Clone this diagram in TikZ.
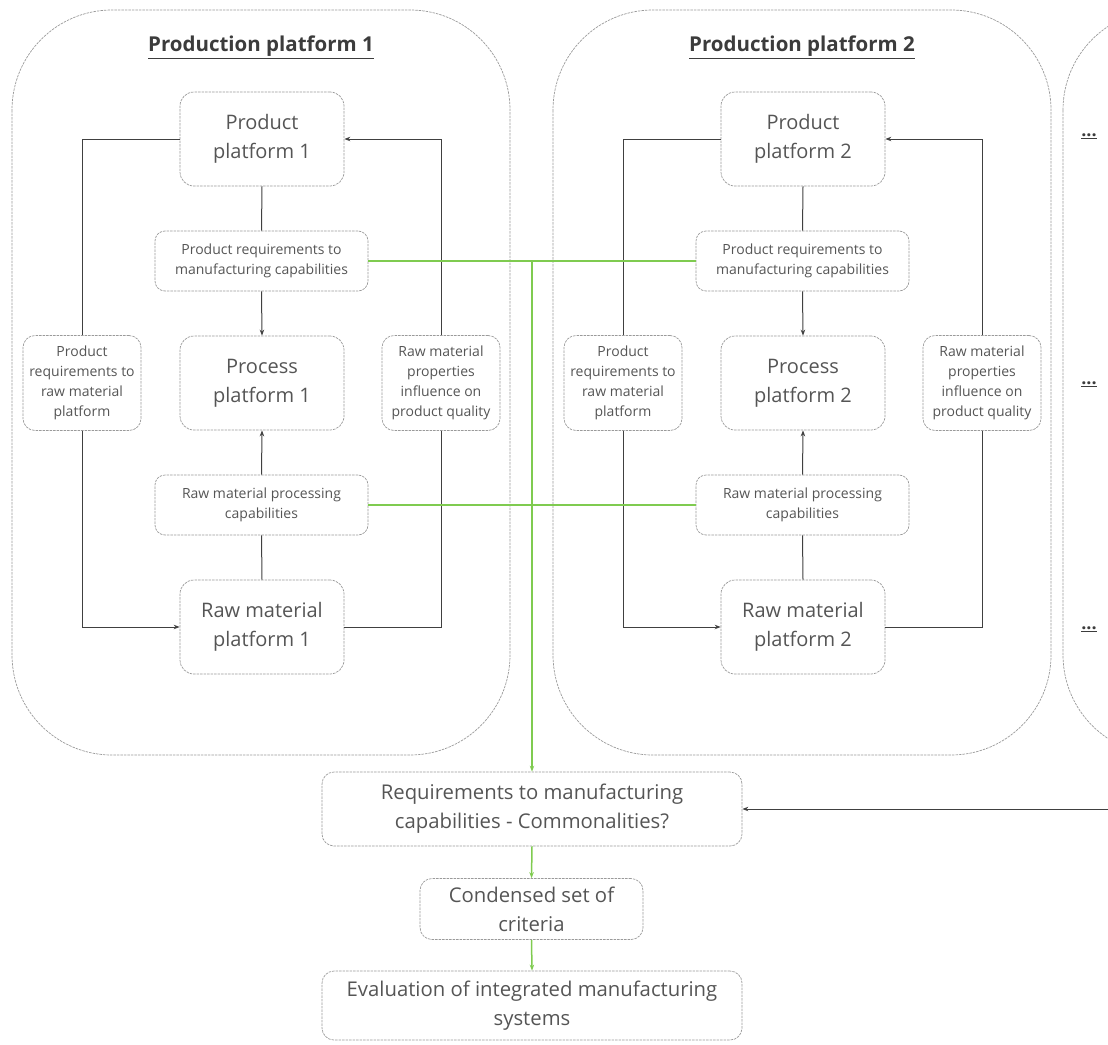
\documentclass[tikz,border=0pt]{standalone}
\usepackage{fontspec}
\setmainfont{Open Sans}
\usetikzlibrary{arrows.meta}
\definecolor{bordergray}{HTML}{9A9A9A}
\definecolor{txtgray}{HTML}{555555}
\definecolor{linegray}{HTML}{404040}
\definecolor{titlegray}{HTML}{3C3C3C}
\definecolor{lgreen}{HTML}{7FCB50}
\tikzset{
  dashborder/.style={draw=bordergray, dash pattern=on 2.5pt off 1pt, line width=0.7pt},
  box/.style={dashborder, rounded corners=14pt, align=center, text=txtgray, inner sep=0pt},
  bigbox/.style={box, minimum width=164pt, minimum height=94pt, font=\fontsize{20}{29}\selectfont},
  midbox/.style={box, rounded corners=10pt, minimum width=213pt, minimum height=60pt, font=\fontsize{14}{20}\selectfont},
  sidebox/.style={box, rounded corners=12pt, minimum width=118pt, minimum height=95pt, font=\fontsize{14}{20}\selectfont},
  lowbox/.style={box, rounded corners=12pt, font=\fontsize{20.3}{29}\selectfont},
  container/.style={dashborder, rounded corners=100pt},
  titletext/.style={font=\fontsize{20.5}{24}\bfseries, text=titlegray},
  moretext/.style={font=\fontsize{18}{20}\bfseries, text=titlegray},
  conn/.style={draw=linegray, line width=1pt},
  arr/.style={conn, -{Stealth[length=6pt,width=4.5pt]}},
  gline/.style={draw=lgreen, line width=1.5pt},
  garr/.style={gline, -{Stealth[length=6pt,width=4.5pt]}},
}
\begin{document}
\begin{tikzpicture}[x=1pt,y=-1pt]
\useasboundingbox (0,0) rectangle (1108,1044);
\clip (0,0) rectangle (1108,1044);

% the three production platform containers
\draw[container] (12,10) rectangle (510,755);
\draw[container] (553,10) rectangle (1051,755);
\draw[container] (1063,10) rectangle (1260,755);

\node[titletext] (t1) at (261,47) {\underline{Production platform 1}};
\node[titletext] (t2) at (802,47) {\underline{Production platform 2}};

\node[moretext] (m1) at (1089,136) {\underline{...}};
\node[moretext] (m2) at (1089,384) {\underline{...}};
\node[moretext] (m3) at (1089,629) {\underline{...}};

% platform 1
\node[bigbox] (pp1) at (262,139) {Product\\platform 1};
\node[midbox] (rq1) at (261.5,261) {Product requirements to\\manufacturing capabilities};
\node[bigbox] (pr1) at (262,383) {Process\\platform 1};
\node[midbox] (pc1) at (261.5,505) {Raw material processing\\capabilities};
\node[bigbox] (rm1) at (262,627) {Raw material\\platform 1};
\node[sidebox] (sl1) at (82,383) {Product\\requirements to\\raw material\\platform};
\node[sidebox] (sr1) at (441,383) {Raw material\\properties\\influence on\\product quality};

% platform 2
\node[bigbox] (pp2) at (803,139) {Product\\platform 2};
\node[midbox] (rq2) at (802.5,261) {Product requirements to\\manufacturing capabilities};
\node[bigbox] (pr2) at (803,383) {Process\\platform 2};
\node[midbox] (pc2) at (802.5,505) {Raw material processing\\capabilities};
\node[bigbox] (rm2) at (803,627) {Raw material\\platform 2};
\node[sidebox] (sl2) at (623,383) {Product\\requirements to\\raw material\\platform};
\node[sidebox] (sr2) at (982,383) {Raw material\\properties\\influence on\\product quality};

% lower chain
\node[lowbox, minimum width=420pt, minimum height=74pt] (all) at (532,809) {Requirements to manufacturing\\capabilities - Commonalities?};
\node[lowbox, minimum width=223pt, minimum height=61pt] (cs) at (531.5,909) {Condensed set of\\criteria};
\node[lowbox, minimum width=420pt, minimum height=69pt] (ev) at (532,1005.5) {Evaluation of integrated manufacturing\\systems};

% connectors inside each platform
\foreach \i in {1,2}{
  \draw[conn] (pp\i.south) -- (rq\i.north);
  \draw[arr] (rq\i.south) -- (pr\i.north);
  \draw[conn] (rm\i.north) -- (pc\i.south);
  \draw[arr] (pc\i.north) -- (pr\i.south);
  \draw[conn] (pp\i.west) -| (sl\i.north);
  \draw[arr] (sl\i.south) |- (rm\i.west);
  \draw[conn] (rm\i.east) -| (sr\i.south);
  \draw[arr] (sr\i.north) |- (pp\i.east);
}

% links between the platforms
\draw[gline] (rq1.east) -- (rq2.west);
\draw[gline] (pc1.east) -- (pc2.west);
\draw[garr] (rq1.east -| all.north) -- (all.north);
\draw[garr] (all.south) -- (cs.north);
\draw[garr] (cs.south) -- (ev.north);

\coordinate (rin) at (1110,809);
\draw[arr] (rin) -- (all.east);
\end{tikzpicture}
\end{document}
